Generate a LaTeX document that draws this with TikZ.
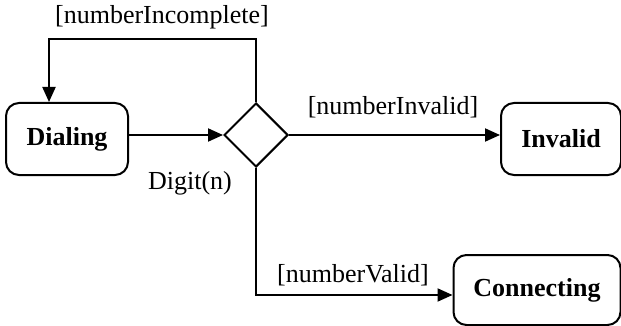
\documentclass[tikz,border=0pt]{standalone}
\usepackage{fontspec}
\setmainfont{Liberation Serif}
\usetikzlibrary{arrows.meta,shapes.geometric}
\begin{document}
\begin{tikzpicture}[x=1pt,y=-1pt,
  every node/.style={font=\fontsize{26}{30}\selectfont},
  state/.style={draw,line width=2pt,rounded corners=13pt,inner sep=0pt,font=\fontsize{26}{30}\selectfont\bfseries},
  choice/.style={draw,diamond,line width=2pt,minimum width=64pt,minimum height=64pt,inner sep=0pt},
  flow/.style={line width=2pt,-{Triangle[length=15pt,width=13pt]}},
  lbl/.style={inner sep=0pt}]
\useasboundingbox (0,0) rectangle (621,326);
\node[state,minimum width=122pt,minimum height=72pt] (dial) at (67,139) {Dialing};
\node[choice] (ch) at (256,135) {};
\node[state,minimum width=120pt,minimum height=72pt] (inv) at (561,139) {Invalid};
\node[state,minimum width=167pt,minimum height=70pt] (con) at (537,290) {Connecting};
\coordinate (lt) at (256,39);
\coordinate (ll) at (49,39);
\coordinate (lb) at (256,295);
\draw[flow] (dial.east |- ch) -- (ch.west);
\draw[flow] (ch.north) -- (lt) -- (ll) -- (ll |- dial.north);
\draw[flow] (ch.east) -- (inv.west |- ch);
\draw[flow] (ch.south) -- (lb) -- (con.west |- lb);
\node[lbl] (l1) at (162,17) {[numberIncomplete]};
\node[lbl] (l2) at (393,107) {[numberInvalid]};
\node[lbl] (l3) at (190,183) {Digit(n)};
\node[lbl] (l4) at (353,275) {[numberValid]};
\end{tikzpicture}
\end{document}
